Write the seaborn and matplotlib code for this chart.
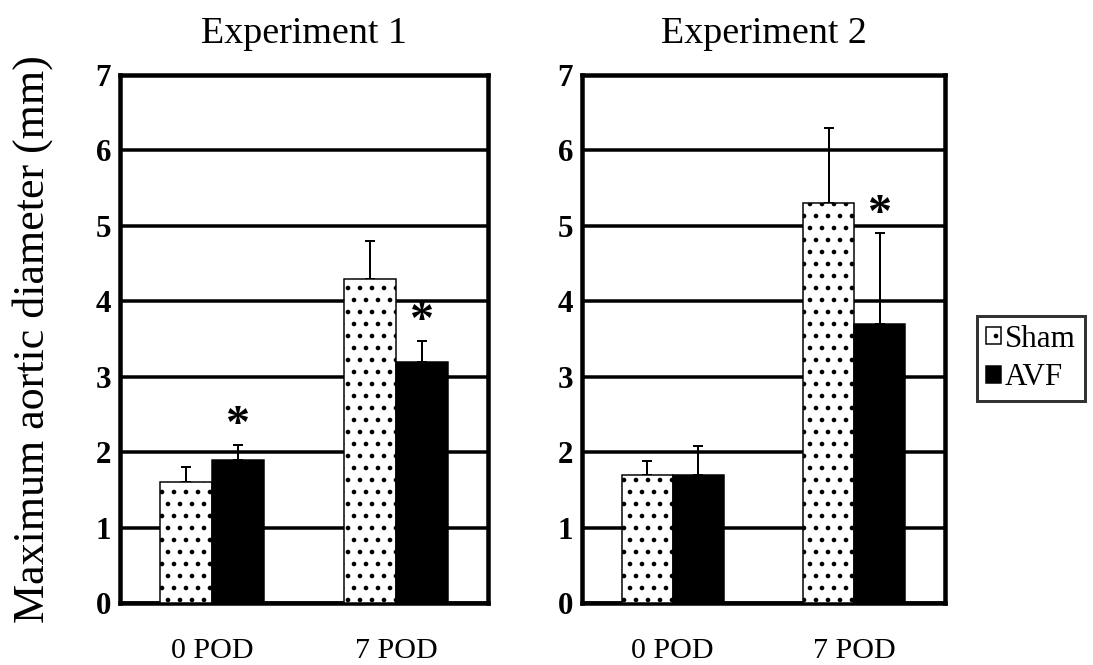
import numpy as np
import pandas as pd
import matplotlib
matplotlib.use("Agg")
import matplotlib.pyplot as plt
import seaborn as sns

# ---- data ----
experiments = ["Experiment 1", "Experiment 2"]
timepoints = ["0 POD", "7 POD"]
groups = ["Sham", "AVF"]

exp1_sham = [1.6, 4.3]
exp1_avf = [1.9, 3.2]
exp1_sham_err = [0.2, 0.5]
exp1_avf_err = [0.2, 0.28]
exp1_avf_sig = [True, True]

exp2_sham = [1.7, 5.3]
exp2_avf = [1.7, 3.7]
exp2_sham_err = [0.18, 1.0]
exp2_avf_err = [0.38, 1.2]
exp2_avf_sig = [False, True]

yticks = [0, 1, 2, 3, 4, 5, 6, 7]
ylabel = "Maximum aortic diameter (mm)"

panels = [
    (exp1_sham, exp1_avf, exp1_sham_err, exp1_avf_err, exp1_avf_sig),
    (exp2_sham, exp2_avf, exp2_sham_err, exp2_avf_err, exp2_avf_sig),
]

sns.set_style("white")
plt.rcParams["font.family"] = ["Liberation Serif", "DejaVu Serif"]
plt.rcParams["hatch.linewidth"] = 2.2
plt.rcParams["hatch.color"] = "black"
for k in ["text.color", "axes.labelcolor", "xtick.color", "ytick.color",
          "xtick.labelcolor", "ytick.labelcolor"]:
    plt.rcParams[k] = "black"

W, H, DPI = 1093, 665, 72
fig = plt.figure(figsize=(W / DPI, H / DPI), dpi=DPI)

axes_px = [(120, 75, 368, 528), (582, 75, 363, 528)]
axes = []
for (x0, y0, w, h) in axes_px:
    axes.append(fig.add_axes([x0 / W, 1 - (y0 + h) / H, w / W, h / H]))

palette = {"Sham": "white", "AVF": "black"}

for ax, title, (sham, avf, sham_err, avf_err, sig) in zip(axes, experiments, panels):
    df = pd.DataFrame({
        "time": timepoints * 2,
        "group": ["Sham"] * len(timepoints) + ["AVF"] * len(timepoints),
        "value": list(sham) + list(avf),
    })
    sns.barplot(data=df, x="time", y="value", hue="group", hue_order=groups,
                order=timepoints, palette=palette, edgecolor="black",
                linewidth=1.5, width=0.56, errorbar=None, legend=False,
                ax=ax, zorder=3)
    ax.set_xlim(-0.5, len(timepoints) - 0.5)
    errs = {"Sham": sham_err, "AVF": avf_err}
    means = {"Sham": sham, "AVF": avf}
    for cont, g in zip(ax.containers, groups):
        if g == "Sham":
            for p in cont.patches:
                p.set_hatch(".")
        xs = [p.get_x() + p.get_width() / 2 for p in cont.patches]
        ax.errorbar(xs, means[g], yerr=[[0] * len(xs), errs[g]], fmt="none",
                    ecolor="black", elinewidth=2, capsize=5, capthick=2,
                    zorder=2)
        if g == "AVF":
            for x, m, e, s in zip(xs, means[g], errs[g], sig):
                if s:
                    ax.annotate("*", xy=(x, m + e + 0.4), xytext=(0, -24),
                                textcoords="offset points", ha="center",
                                va="baseline", fontsize=48, fontweight="bold",
                                color="black")
    ax.set_ylim(0, 7)
    ax.set_yticks(yticks)
    ax.set_yticklabels([str(t) for t in yticks], fontweight="bold", fontsize=31)
    ax.tick_params(axis="both", length=0)
    ax.tick_params(axis="y", pad=9)
    ax.tick_params(axis="x", pad=35, labelsize=30)
    ax.set_xlabel("")
    ax.set_ylabel("")
    ax.set_axisbelow(True)
    ax.yaxis.grid(True, color="black", linewidth=3.5)
    ax.xaxis.grid(False)
    for sp in ax.spines.values():
        sp.set_visible(True)
        sp.set_color("black")
        sp.set_linewidth(4.5)
    ax.set_title(title, fontsize=38, pad=32, color="black")

fig.text(33 / W, 1 - 339 / H, ylabel, rotation=90, ha="center", va="center",
         fontsize=44, color="black")

leg = fig.legend(handles=list(axes[0].containers), labels=groups,
                 loc="center", bbox_to_anchor=(1031 / W, 1 - 358.5 / H),
                 fontsize=31, frameon=True, fancybox=False, handlelength=0.47,
                 handleheight=0.47, handletextpad=0.12, borderpad=0.3,
                 labelspacing=0.3, borderaxespad=0)
leg.get_frame().set_edgecolor("black")
leg.get_frame().set_linewidth(3)
for t in leg.get_texts():
    t.set_color("black")

fig.savefig("out.png", dpi=DPI)
